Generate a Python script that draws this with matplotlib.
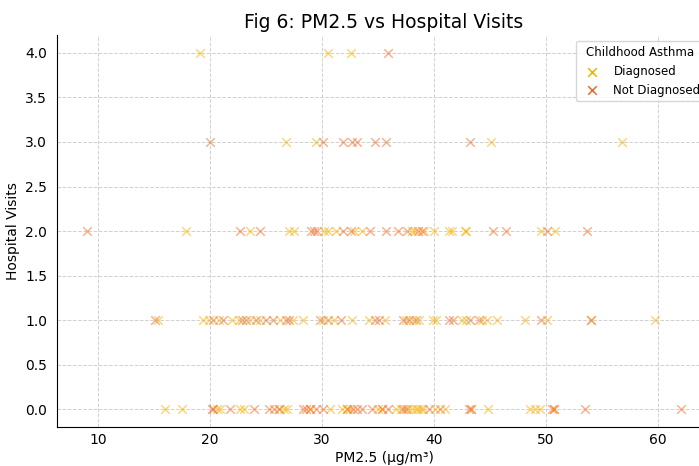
import numpy as np
import matplotlib.pyplot as plt

# PM2.5 readings per hospital-visit count, split by asthma status
diag_pm = {
    4: [19.1, 30.5, 32.6],
    3: [26.8, 29.5, 45.1, 56.8],
    2: [17.9, 23.6, 27.1, 27.5, 30.2, 30.5, 31.3, 32.9, 33.6, 38.0, 38.3,
        39.1, 40.0, 41.3, 41.6, 42.8, 42.9, 49.6, 50.8],
    1: [15.4, 19.4, 19.9, 20.8, 22.0, 22.6, 23.6, 24.5, 26.3, 27.4, 28.3,
        30.1, 31.1, 32.7, 34.2, 35.6, 37.5, 38.1, 38.7, 39.9, 40.2, 42.5,
        42.9, 44.3, 44.7, 45.6, 48.1, 50.1, 54.0, 59.7],
    0: [16.0, 17.5, 20.6, 20.9, 22.7, 23.0, 26.2, 26.6, 26.9, 28.9, 30.7,
        31.8, 32.2, 32.5, 35.0, 35.4, 36.6, 37.1, 37.7, 38.0, 38.4, 38.6,
        38.8, 39.0, 40.1, 41.0, 43.3, 44.8, 48.6, 49.0, 49.5, 50.7],
}
not_diag_pm = {
    4: [35.9],
    3: [20.0, 30.1, 31.9, 32.7, 33.1, 34.7, 35.7, 43.2],
    2: [9.0, 22.7, 24.5, 29.0, 29.3, 29.6, 31.9, 32.6, 34.3, 35.7, 36.8,
        37.6, 38.6, 38.9, 45.3, 46.4, 50.1, 53.7],
    1: [15.1, 20.3, 21.2, 22.9, 23.2, 24.1, 25.0, 25.6, 26.8, 27.1, 29.8,
        30.5, 31.7, 34.7, 35.1, 37.2, 37.8, 38.4, 41.3, 41.7, 43.2, 44.0,
        49.6, 54.0],
    0: [20.2, 20.3, 21.8, 23.9, 25.3, 25.7, 26.2, 28.3, 28.6, 28.9, 29.5,
        30.1, 32.2, 32.8, 33.1, 33.6, 34.5, 35.4, 35.9, 37.5, 37.2, 39.6,
        40.5, 43.1, 43.3, 50.5, 50.7, 53.5, 62.1],
}

groups = ["Diagnosed", "Not Diagnosed"]
colors = ["#f5b000", "#ef6a25"]


def flatten(d):
    xs, ys = [], []
    for visits, vals in d.items():
        xs += vals
        ys += [visits] * len(vals)
    return np.array(xs), np.array(ys)


fig = plt.figure(figsize=(6.99, 4.66), dpi=100)
ax = fig.add_axes([0.0815, 0.0837, 0.936, 0.841])

for name, data, c in zip(groups, [diag_pm, not_diag_pm], colors):
    x, y = flatten(data)
    ax.scatter(x, y, marker="x", s=38, linewidths=1.1, color=c, alpha=0.5, label=name)

ax.set_title("Fig 6: PM2.5 vs Hospital Visits", fontsize=13.5, pad=5)
ax.set_xlabel("PM2.5 (µg/m³)", fontsize=10, labelpad=3)
ax.set_ylabel("Hospital Visits", fontsize=10)
ax.set_yticks(np.arange(0, 4.01, 0.5))
ax.tick_params(axis="x", length=0, pad=4)
ax.tick_params(axis="y", length=0, pad=7)
ax.grid(True, linestyle="--", color="#d0d0d0", linewidth=0.7)
ax.set_axisbelow(True)
for s in ["top", "right"]:
    ax.spines[s].set_visible(False)

leg = ax.legend(title="Childhood Asthma", loc="upper right", fontsize=8.5,
                title_fontsize=8.5, frameon=True)
for h in leg.legend_handles:
    h.set_alpha(1)

fig.savefig("out.png", dpi=100)
